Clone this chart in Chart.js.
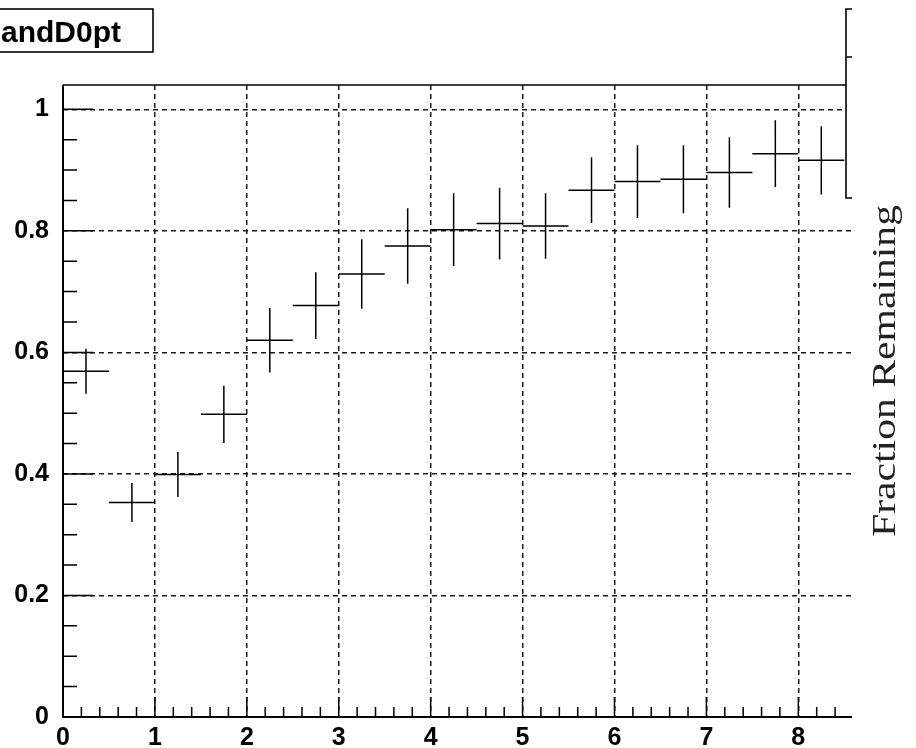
<!DOCTYPE html>
<html>
<head>
<meta charset="utf-8">
<title>Fraction Remaining vs D0 pt</title>
<script src="https://cdn.jsdelivr.net/npm/chart.js@4.4.1/dist/chart.umd.min.js"></script>
<style>
  html, body { margin: 0; padding: 0; background: #fff; }
  canvas { display: block; }
</style>
</head>
<body>
<canvas id="c" width="916" height="748"></canvas>
<script>
// Histogram bins (pt, bin centres) and the remaining fraction with its error
const binCenters = [0.25, 0.75, 1.25, 1.75, 2.25, 2.75, 3.25, 3.75, 4.25, 4.75, 5.25, 5.75, 6.25, 6.75, 7.25, 7.75, 8.25];
const binHalfWidth = 0.25;
const fraction = [0.569, 0.353, 0.399, 0.498, 0.620, 0.677, 0.729, 0.775, 0.802, 0.812, 0.808, 0.867, 0.881, 0.885, 0.896, 0.927, 0.916];
const fractionErr = [0.037, 0.032, 0.037, 0.047, 0.053, 0.055, 0.057, 0.062, 0.060, 0.059, 0.054, 0.054, 0.060, 0.056, 0.058, 0.055, 0.056];

// Axis tick values (major ticks get labels and grid lines)
const xMajorTicks = [0, 1, 2, 3, 4, 5, 6, 7, 8];
const xMinorStep = 0.2;
const yMajorTicks = [0, 0.2, 0.4, 0.6, 0.8, 1];
const yMinorStep = 0.05;

const histTitle = 'andD0pt';
const yTitle = 'Fraction Remaining';

const X_MAX = 8.584;
const Y_MAX = 1.04;

const FRAME_CLIP_X = 852;
const LABEL_FONT = { family: "'Liberation Sans', Arial, Helvetica, sans-serif", size: 25, weight: 'bold' };

function isMajor(v, majors) {
  return majors.some(m => Math.abs(m - v) < 1e-6);
}
function buildTicks(max, step, majors) {
  const out = [];
  const n = Math.floor(max / step + 1e-6);
  for (let k = 0; k <= n; k++) {
    const v = Math.round(k * step * 1000) / 1000;
    out.push({ value: v, major: isMajor(v, majors) });
  }
  return out;
}

// Draws the error crosses, the ROOT-like frame, inner ticks, the stat box stub,
// the title box and the rotated axis title.
const rootStyle = {
  id: 'rootStyle',
  afterDatasetsDraw(chart) {
    const { ctx, scales: { x, y } } = chart;
    ctx.save();
    ctx.strokeStyle = '#000';
    ctx.lineWidth = 1.5;
    ctx.beginPath();
    for (let i = 0; i < binCenters.length; i++) {
      const xl = x.getPixelForValue(binCenters[i] - binHalfWidth);
      const xr = x.getPixelForValue(binCenters[i] + binHalfWidth);
      const xc = x.getPixelForValue(binCenters[i]);
      const yc = y.getPixelForValue(fraction[i]);
      const yt = y.getPixelForValue(fraction[i] + fractionErr[i]);
      const yb = y.getPixelForValue(fraction[i] - fractionErr[i]);
      ctx.moveTo(xl, yc); ctx.lineTo(xr, yc);
      ctx.moveTo(xc, yt); ctx.lineTo(xc, yb);
    }
    ctx.stroke();
    ctx.restore();
  },
  afterDraw(chart) {
    const { ctx, chartArea: a, scales: { x, y } } = chart;
    ctx.save();
    ctx.beginPath();
    ctx.rect(0, 0, FRAME_CLIP_X, chart.height);
    ctx.clip();

    // inner tick marks
    ctx.strokeStyle = '#000';
    ctx.lineWidth = 1.5;
    ctx.beginPath();
    x.ticks.forEach(t => {
      const px = x.getPixelForValue(t.value);
      const len = isMajor(t.value, xMajorTicks) ? 20 : 10;
      ctx.moveTo(px, a.bottom); ctx.lineTo(px, a.bottom - len);
    });
    y.ticks.forEach(t => {
      const py = y.getPixelForValue(t.value);
      const len = isMajor(t.value, yMajorTicks) ? 30 : 14;
      ctx.moveTo(a.left, py); ctx.lineTo(a.left + len, py);
    });
    ctx.stroke();

    // statistics box (only its left part is inside the pad)
    const sbLeft = 846, sbTop = 9, sbDiv = 57, sbBottom = 198;
    ctx.fillStyle = '#fff';
    ctx.fillRect(sbLeft, sbTop, FRAME_CLIP_X - sbLeft, sbBottom - sbTop);

    // frame: axes lines and top edge
    ctx.lineWidth = 2;
    ctx.beginPath();
    ctx.moveTo(a.left, a.top); ctx.lineTo(a.left, a.bottom);
    ctx.lineTo(a.right, a.bottom);
    ctx.stroke();
    ctx.lineWidth = 1.3;
    ctx.beginPath();
    ctx.moveTo(a.left, a.top); ctx.lineTo(sbLeft, a.top);
    ctx.stroke();

    ctx.lineWidth = 1.6;
    ctx.beginPath();
    ctx.moveTo(FRAME_CLIP_X, sbTop); ctx.lineTo(sbLeft, sbTop);
    ctx.lineTo(sbLeft, sbBottom); ctx.lineTo(FRAME_CLIP_X, sbBottom);
    ctx.moveTo(sbLeft, sbDiv); ctx.lineTo(FRAME_CLIP_X, sbDiv);
    ctx.stroke();

    // histogram title box
    ctx.lineWidth = 1.6;
    ctx.fillStyle = '#fff';
    ctx.fillRect(-4, 9, 157, 43);
    ctx.strokeRect(-4, 9, 157, 43);
    ctx.fillStyle = '#000';
    ctx.font = "bold 30px 'Liberation Sans', Arial, sans-serif";
    ctx.textAlign = 'right';
    ctx.textBaseline = 'alphabetic';
    ctx.fillText(histTitle, 121, 42);
    ctx.restore();

    // rotated y title on the right
    ctx.save();
    ctx.font = "33px 'Liberation Serif', 'Times New Roman', serif";
    const w = ctx.measureText(yTitle).width;
    const stretch = 332 / w;
    ctx.translate(895, 371);
    ctx.rotate(-Math.PI / 2);
    ctx.scale(stretch, 1);
    ctx.fillStyle = '#222';
    ctx.textAlign = 'center';
    ctx.textBaseline = 'alphabetic';
    ctx.fillText(yTitle, 0, 0);
    ctx.restore();
  }
};

const gridColor = majors => c => {
  const v = c.tick ? c.tick.value : null;
  if (v === null || Math.abs(v) < 1e-6) return 'rgba(0,0,0,0)';
  return isMajor(v, majors) ? '#1a1a1a' : 'rgba(0,0,0,0)';
};

new Chart(document.getElementById('c'), {
  type: 'scatter',
  data: {
    datasets: [{
      label: yTitle,
      data: binCenters.map((xv, i) => ({ x: xv, y: fraction[i] })),
      pointRadius: 0,
      showLine: false
    }]
  },
  options: {
    responsive: false,
    animation: false,
    devicePixelRatio: 1,
    layout: { padding: { top: 85, right: 64, left: 0, bottom: 0 } },
    plugins: { legend: { display: false }, tooltip: { enabled: false }, title: { display: false } },
    scales: {
      x: {
        type: 'linear',
        min: 0,
        max: X_MAX,
        afterBuildTicks: s => { s.ticks = buildTicks(X_MAX, xMinorStep, xMajorTicks); },
        afterFit: s => { s.height = 31; },
        grid: { color: gridColor(xMajorTicks), lineWidth: 1.5, drawTicks: false },
        border: { display: false, dash: [5, 4] },
        ticks: {
          autoSkip: false,
          maxRotation: 0,
          padding: 6,
          color: '#000',
          font: LABEL_FONT,
          callback: v => isMajor(v, xMajorTicks) ? String(v) : ''
        }
      },
      y: {
        type: 'linear',
        min: 0,
        max: Y_MAX,
        afterBuildTicks: s => { s.ticks = buildTicks(Y_MAX, yMinorStep, yMajorTicks); },
        afterFit: s => { s.width = 63; },
        grid: { color: gridColor(yMajorTicks), lineWidth: 1.5, drawTicks: false },
        border: { display: false, dash: [5, 4] },
        ticks: {
          autoSkip: false,
          padding: 14,
          color: '#000',
          font: LABEL_FONT,
          callback: v => isMajor(v, yMajorTicks) ? String(Math.round(v * 10) / 10) : ''
        }
      }
    }
  },
  plugins: [rootStyle]
});
</script>
</body>
</html>
